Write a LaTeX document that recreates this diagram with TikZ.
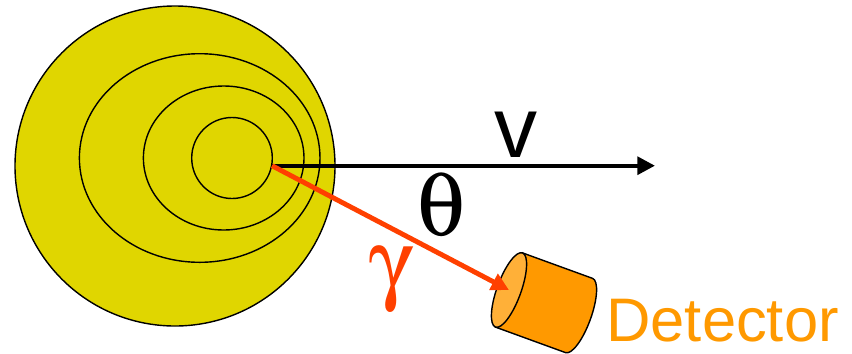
\documentclass[tikz,border=0pt]{standalone}
\usepackage{fontspec}
\setmainfont{Liberation Sans}
\usepackage[Symbol]{upgreek}
\usepackage{tikz}
\usetikzlibrary{arrows.meta,calc,positioning}
\definecolor{nucl}{RGB}{224,214,0}
\definecolor{gam}{RGB}{255,64,0}
\definecolor{det}{RGB}{255,153,0}
\definecolor{detface}{RGB}{255,176,56}

\begin{document}
\begin{tikzpicture}[x=0.02cm,y=0.02cm,big/.style={font=\fontsize{49}{50}\selectfont,inner sep=0pt},greek/.style={font=\fontsize{52}{54}\selectfont,inner sep=0pt}]
  \useasboundingbox (0,0) rectangle (852,353);
  \filldraw[fill=nucl,line width=0.8pt] (175,187) circle (160);
  \foreach \cx/\rx/\ry in {199.7/120.3/104.3,223.7/80.3/72,232/40.3/40.5} {\draw[line width=0.8pt] (\cx,195) ellipse [x radius=\rx,y radius=\ry];}
  \coordinate (src) at (272,187.3); \coordinate (vtip) at (655,187.3); \coordinate (front) at (509,63);
  \draw[line width=2.3pt,-{Triangle[length=10pt,width=10pt]}] (src) -- (vtip);
  \begin{scope}[shift={(front)},rotate=-20]
    \filldraw[fill=det,line width=0.8pt] (0,39.5) -- (74.5,39.5) arc[start angle=90,end angle=-90,x radius=12,y radius=39.5] -- (0,-39.5) -- cycle;
    \filldraw[fill=detface,line width=0.8pt] (0,0) ellipse [x radius=12,y radius=39.5];
  \end{scope}
  \draw[gam,line width=2.8pt,-{Triangle[length=10pt,width=10pt]}] (src) -- (front);
  \node[big] (vel) at (516.3,218) {v};
  \node[greek] (ang) at (441.7,148) {$\uptheta$};
  \node[greek,text=gam] (gamma) at (392,73.5) {$\upgamma$};
  \node[font=\fontsize{35}{36}\selectfont,text=det,inner sep=0pt,anchor=base west] (detlbl) at (606,11.3) {Detector};
\end{tikzpicture}
\end{document}
